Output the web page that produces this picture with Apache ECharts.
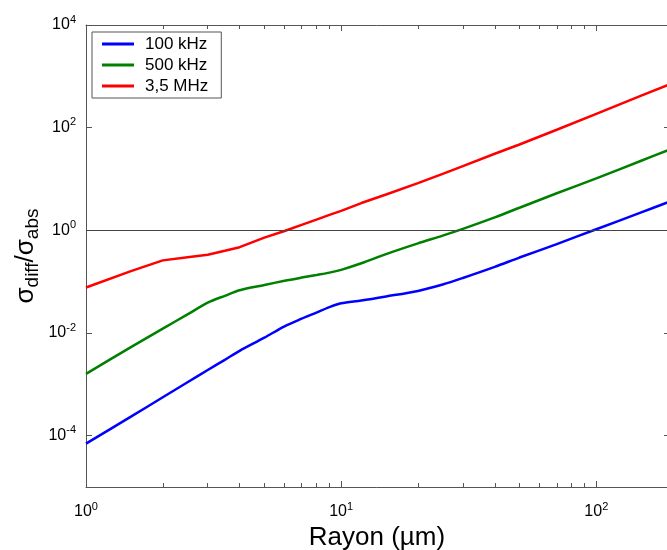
<!DOCTYPE html>
<html>
<head>
<meta charset="utf-8">
<script src="https://cdn.jsdelivr.net/npm/echarts@6/dist/echarts.min.js"></script>
<style>html,body{margin:0;padding:0;background:#fff}#c{width:667px;height:550px}</style>
</head>
<body>
<div id="c"></div>
<script>
// radius (µm)
const rayon = [1, 1.5, 2, 2.5, 3, 3.5, 4, 5, 6, 7, 8, 9, 10, 12, 15, 20, 25, 30, 40, 50, 70, 100, 150, 191];
// sigma_diff / sigma_abs
const s100k = [7.0e-5, 2.35e-4, 5.6e-4, 1.1e-3, 1.9e-3, 3.0e-3, 4.5e-3, 8.1e-3, 0.0135, 0.019, 0.025, 0.032, 0.038, 0.043, 0.0515, 0.066, 0.088, 0.118, 0.194, 0.295, 0.54, 1.05, 2.24, 3.52];
const s500k = [0.0016, 0.0053, 0.0122, 0.023, 0.039, 0.053, 0.068, 0.086, 0.104, 0.120, 0.135, 0.150, 0.170, 0.228, 0.345, 0.558, 0.79, 1.07, 1.79, 2.75, 5.27, 10.3, 22.7, 36.4];
const s35M  = [0.077, 0.16, 0.26, 0.30, 0.335, 0.40, 0.47, 0.72, 0.97, 1.28, 1.62, 2.0, 2.4, 3.4, 5.0, 8.3, 12.6, 17.8, 31, 47, 91, 186, 420, 676];
const seriesNames = ['100 kHz', '500 kHz', '3,5 MHz'];
const xMajor = [1, 10, 100];
const xMinor = [2, 3, 4, 5, 6, 7, 8, 9, 20, 30, 40, 50, 60, 70, 80, 90];
const yMajor = [1e-4, 1e-2, 1, 1e2, 1e4];

const FF = 'Liberation Sans, Arial, sans-serif';
const AX = '#555';
function pow10(v) {
  const e = Math.round(Math.log10(v));
  return '{b|10}{s|' + e + '}';
}
const richPow = {
  b: { fontSize: 16, fontFamily: FF, color: '#000' },
  s: { fontSize: 11, fontFamily: FF, color: '#000', padding: [0, 0, 11, 0] }
};
function pairs(ys) { return rayon.map((r, i) => [r, ys[i]]); }

const chart = echarts.init(document.getElementById('c'));
const xBase = { type: 'log', logBase: 10, min: 1, max: 191, splitLine: { show: false } };
const yBase = { type: 'log', logBase: 10, min: 1e-5, max: 1e4, splitLine: { show: false } };
const line = (show) => ({ show: show, onZero: false, lineStyle: { color: AX, width: 1 } });
chart.setOption({
  animation: false,
  backgroundColor: '#fff',
  grid: { left: 86, top: 25, right: -1, bottom: 63, containLabel: false, outerBoundsMode: 'none' },
  legend: {
    orient: 'vertical', left: 92, top: 32,
    data: seriesNames,
    icon: 'rect', itemWidth: 32, itemHeight: 3, itemGap: 3,
    borderColor: AX, borderWidth: 1, padding: [3, 13, 3, 10],
    backgroundColor: '#fff',
    textStyle: { fontSize: 17, fontFamily: FF, color: '#000', lineHeight: 18, padding: [0, 0, 0, 6] }
  },
  xAxis: [
    Object.assign({}, xBase, {
      position: 'bottom',
      name: 'Rayon (µm)', nameLocation: 'middle', nameGap: 38, nameMoveOverlap: false,
      nameTextStyle: { fontSize: 26, fontFamily: FF, color: '#000' },
      axisLine: line(true),
      axisTick: { show: true, inside: true, length: 6, customValues: xMajor, lineStyle: { color: AX } },
      axisLabel: { show: true, customValues: xMajor, margin: 14, formatter: pow10, rich: richPow }
    }),
    Object.assign({}, xBase, {
      position: 'bottom',
      axisLine: line(false),
      axisTick: { show: true, inside: true, length: 4, customValues: xMinor, lineStyle: { color: AX } },
      axisLabel: { show: false }
    }),
    Object.assign({}, xBase, {
      position: 'top',
      axisLine: line(true),
      axisTick: { show: true, inside: true, length: 6, customValues: xMajor, lineStyle: { color: AX } },
      axisLabel: { show: false }
    }),
    Object.assign({}, xBase, {
      position: 'top',
      axisLine: line(false),
      axisTick: { show: true, inside: true, length: 4, customValues: xMinor, lineStyle: { color: AX } },
      axisLabel: { show: false }
    })
  ],
  yAxis: [
    Object.assign({}, yBase, {
      position: 'left',
      name: '{m|σ}{sub|diff}{m|/σ}{sub|abs}', nameLocation: 'middle', nameGap: 44, nameRotate: 90,
      nameMoveOverlap: false,
      nameTextStyle: {
        rich: {
          m: { fontSize: 26, fontFamily: FF, color: '#000' },
          sub: { fontSize: 19, fontFamily: FF, color: '#000', padding: [14, 0, 0, 0] }
        }
      },
      axisLine: line(true),
      axisTick: { show: true, inside: true, length: 6, customValues: yMajor, lineStyle: { color: AX } },
      axisLabel: { show: true, customValues: yMajor, margin: 10, formatter: pow10, rich: richPow }
    }),
    Object.assign({}, yBase, {
      position: 'right',
      axisLine: line(true),
      axisTick: { show: true, inside: true, length: 4, customValues: yMajor, lineStyle: { color: AX } },
      axisLabel: { show: false }
    })
  ],
  series: [
    {
      name: seriesNames[0], type: 'line', data: pairs(s100k), smooth: 0.3, showSymbol: false,
      lineStyle: { color: '#0000ff', width: 2.5 }, itemStyle: { color: '#0000ff' },
      markLine: {
        silent: true, symbol: 'none', label: { show: false },
        lineStyle: { color: '#444', width: 1, type: 'solid' },
        data: [{ yAxis: 1 }]
      }
    },
    {
      name: seriesNames[1], type: 'line', data: pairs(s500k), smooth: 0.3, showSymbol: false,
      lineStyle: { color: '#008000', width: 2.5 }, itemStyle: { color: '#008000' }
    },
    {
      name: seriesNames[2], type: 'line', data: pairs(s35M), smooth: false, showSymbol: false,
      lineStyle: { color: '#ff0000', width: 2.5 }, itemStyle: { color: '#ff0000' }
    }
  ]
});
</script>
</body>
</html>
